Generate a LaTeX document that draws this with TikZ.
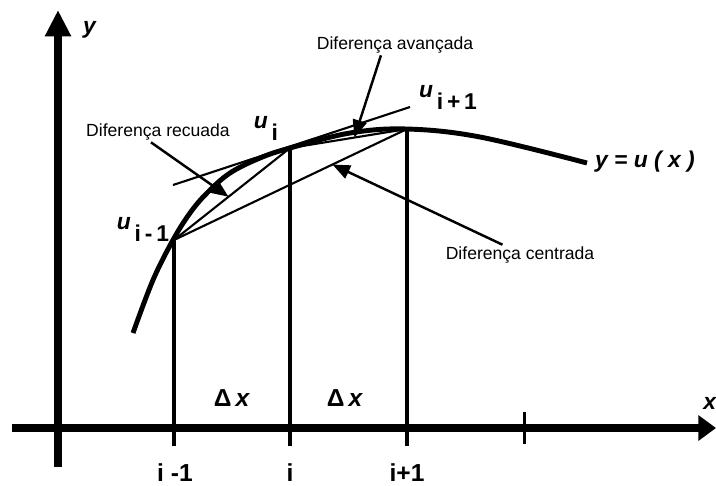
\documentclass[tikz,border=0pt]{standalone}
\usepackage{fontspec}
\setmainfont{Liberation Sans}
\usetikzlibrary{arrows.meta}
\tikzstyle{axis}=[line width=4.5pt]
\tikzstyle{ordinate}=[line width=2.8pt]
\tikzstyle{chord}=[line width=1.2pt]
\tikzstyle{leader}=[line width=1.4pt,-{Triangle[length=10pt,width=8pt]}]
\tikzstyle{note}=[font=\fontsize{10}{12}\selectfont,inner sep=1pt]
\tikzstyle{tick label}=[font=\fontsize{14}{16}\selectfont\bfseries,inner sep=1pt]
\tikzstyle{value}=[font=\fontsize{13}{15}\selectfont\bfseries,inner sep=1pt]
\newcommand{\uval}[1]{\textit{u}\raisebox{-1.0ex}{\,#1}}

\begin{document}
\begin{tikzpicture}[x=0.02cm,y=-0.02cm]
    \useasboundingbox (0,0) rectangle (716,485);
    % axes
    \draw[axis,-{Triangle[length=10pt,width=14pt]}] (12,428) -- (716,428);
    \draw[axis,-{Triangle[length=15pt,width=14pt]}] (58,467) -- (58,10);
    \node[value] (xlab) at (710,403) {\textit{x}};
    \node[value] (ylab) at (90,30) {\textit{y}};

    % the function
    \draw[line width=2.8pt] plot[smooth,tension=0.6] coordinates
        {(133,333) (153,280) (173,240) (190,213) (207,193) (230,173)
         (260,158) (290,148) (350,133) (407,129) (480,137) (587,163)};
    \node[value] (fun) at (645,162) {\textit{y = u ( x )}};

    \coordinate (um) at (174,240);
    \coordinate (ui) at (290,148);
    \coordinate (up) at (407,129);
    \coordinate (fm) at (174,446);
    \coordinate (fi) at (290,446);
    \coordinate (fp) at (407,446);
    \foreach \source/\dest in {um/fm, ui/fi, up/fp}
        \draw[ordinate] (\source) -- (\dest);
    \coordinate (tk1) at (524,412);
    \coordinate (tk2) at (524,444);
    \draw[line width=1.7pt] (tk1) -- (tk2);

    % chords and tangent
    \coordinate (ta) at (173,185);
    \coordinate (tb) at (410,107);
    \draw[chord] (ta) -- (tb);
    \draw[chord] (um) -- (ui) coordinate[pos=0.47] (bk);
    \draw[chord] (ui) -- (up) coordinate[pos=0.55] (fw);
    \draw[chord] (um) -- (up) coordinate[pos=0.68] (ct);

    % labels
    \node[value] (lm) at (143,229) {\uval{i\,-\,1}};
    \node[value] (li) at (266,128) {\uval{i}};
    \node[value] (lp) at (448,97) {\uval{i\,+\,1}};
    \node[tick label] (tm) at (175,473) {i -1};
    \node[tick label] (ti) at (290,473) {i};
    \node[tick label] (tp) at (407,473) {i+1};
    \node[tick label] (dx1) at (232,398) {Δ\,\textit{x}};
    \node[tick label] (dx2) at (345,398) {Δ\,\textit{x}};

    \node[note] (rec) at (158,132) {Diferença recuada};
    \node[note] (av) at (395,45) {Diferença avançada};
    \node[note] (cen) at (520,255) {Diferença centrada};
    \draw[leader] ([xshift=-4pt]rec.south) -- (bk);
    \draw[leader] ([xshift=-8pt]av.south) -- (fw);
    \draw[leader] ([xshift=-10pt]cen.north) -- (ct);
\end{tikzpicture}
\end{document}
